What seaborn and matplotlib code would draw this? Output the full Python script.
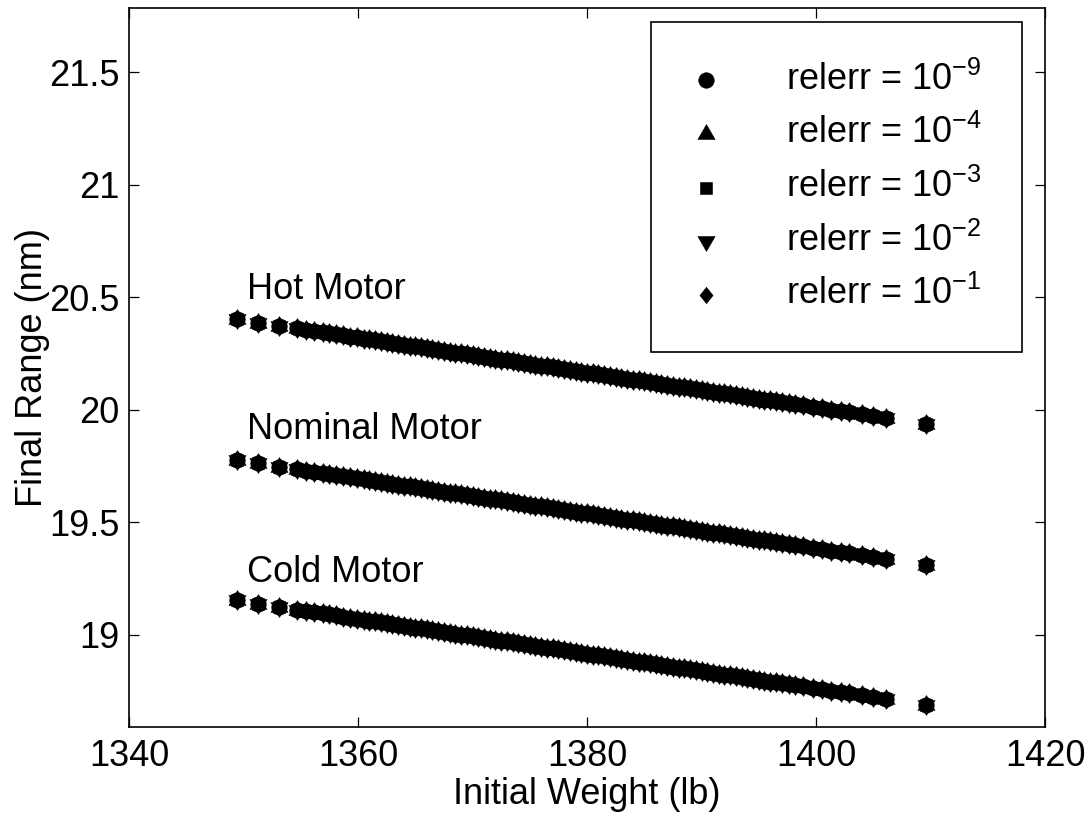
import matplotlib
matplotlib.use("Agg")
import matplotlib.pyplot as plt
from matplotlib.path import Path
import numpy as np
import pandas as pd
import seaborn as sns

# Initial weight samples (lb), shared by all three motor cases
weight = [
    1349.4, 1351.3, 1353.1, 1354.7, 1355.5, 1356.2, 1356.9, 1357.5, 1358.1, 1358.7, 1359.3, 1359.9, 1360.5,
    1361.0, 1361.5, 1362.0, 1362.5, 1363.0, 1363.5, 1364.0, 1364.5, 1365.0, 1365.5,
    1366.0, 1366.5, 1367.0, 1367.5, 1368.0, 1368.5, 1369.0, 1369.5, 1370.0, 1370.5,
    1371.0, 1371.5, 1372.0, 1372.5, 1373.0, 1373.5, 1374.0, 1374.5, 1375.0, 1375.5,
    1376.0, 1376.5, 1377.0, 1377.5, 1378.0, 1378.5, 1379.0, 1379.5, 1380.0, 1380.5,
    1381.0, 1381.5, 1382.0, 1382.5, 1383.0, 1383.5, 1384.0, 1384.5, 1385.0, 1385.5,
    1386.0, 1386.5, 1387.0, 1387.5, 1388.0, 1388.5, 1389.0, 1389.5, 1390.0, 1390.5,
    1391.0, 1391.5, 1392.0, 1392.5, 1393.0, 1393.5, 1394.0, 1394.5, 1395.0, 1395.5,
    1396.0, 1396.5, 1397.0,
    1397.6, 1398.2, 1398.9, 1399.7, 1400.5, 1401.3, 1402.2, 1402.9, 1404.0, 1405.0, 1406.1, 1409.6,
]

# Final range (nm) for each motor temperature case
range_hot = [
    20.402, 20.387, 20.373, 20.361, 20.355, 20.349, 20.344, 20.339, 20.335, 20.330, 20.325, 20.321, 20.316,
    20.312, 20.308, 20.304, 20.301, 20.297, 20.293, 20.289, 20.285, 20.281, 20.277,
    20.274, 20.270, 20.266, 20.262, 20.258, 20.254, 20.250, 20.246, 20.243, 20.239,
    20.235, 20.231, 20.227, 20.223, 20.219, 20.216, 20.212, 20.208, 20.204, 20.200,
    20.196, 20.192, 20.188, 20.185, 20.181, 20.177, 20.173, 20.169, 20.165, 20.161,
    20.157, 20.154, 20.150, 20.146, 20.142, 20.138, 20.134, 20.130, 20.126, 20.123,
    20.119, 20.115, 20.111, 20.107, 20.103, 20.099, 20.096, 20.092, 20.088, 20.084,
    20.080, 20.076, 20.072, 20.068, 20.065, 20.061, 20.057, 20.053, 20.049, 20.045,
    20.041, 20.037, 20.034,
    20.029, 20.024, 20.019, 20.013, 20.006, 20.000, 19.993, 19.988, 19.979, 19.971, 19.963, 19.936,
]
range_nominal = [
    19.776, 19.761, 19.747, 19.735, 19.729, 19.723, 19.718, 19.713, 19.709, 19.704, 19.699, 19.695, 19.690,
    19.686, 19.682, 19.678, 19.675, 19.671, 19.667, 19.663, 19.659, 19.655, 19.651,
    19.648, 19.644, 19.640, 19.636, 19.632, 19.628, 19.624, 19.620, 19.617, 19.613,
    19.609, 19.605, 19.601, 19.597, 19.593, 19.590, 19.586, 19.582, 19.578, 19.574,
    19.570, 19.566, 19.562, 19.559, 19.555, 19.551, 19.547, 19.543, 19.539, 19.535,
    19.531, 19.528, 19.524, 19.520, 19.516, 19.512, 19.508, 19.504, 19.500, 19.497,
    19.493, 19.489, 19.485, 19.481, 19.477, 19.473, 19.470, 19.466, 19.462, 19.458,
    19.454, 19.450, 19.446, 19.442, 19.439, 19.435, 19.431, 19.427, 19.423, 19.419,
    19.415, 19.411, 19.408,
    19.403, 19.398, 19.393, 19.387, 19.380, 19.374, 19.367, 19.362, 19.353, 19.345, 19.337, 19.310,
]
range_cold = [
    19.153, 19.138, 19.124, 19.112, 19.106, 19.100, 19.095, 19.090, 19.086, 19.081, 19.076, 19.072, 19.067,
    19.063, 19.059, 19.055, 19.052, 19.048, 19.044, 19.040, 19.036, 19.032, 19.028,
    19.025, 19.021, 19.017, 19.013, 19.009, 19.005, 19.001, 18.997, 18.994, 18.990,
    18.986, 18.982, 18.978, 18.974, 18.970, 18.967, 18.963, 18.959, 18.955, 18.951,
    18.947, 18.943, 18.939, 18.936, 18.932, 18.928, 18.924, 18.920, 18.916, 18.912,
    18.908, 18.905, 18.901, 18.897, 18.893, 18.889, 18.885, 18.881, 18.877, 18.874,
    18.870, 18.866, 18.862, 18.858, 18.854, 18.850, 18.847, 18.843, 18.839, 18.835,
    18.831, 18.827, 18.823, 18.819, 18.816, 18.812, 18.808, 18.804, 18.800, 18.796,
    18.792, 18.788, 18.785,
    18.780, 18.775, 18.770, 18.764, 18.757, 18.751, 18.744, 18.739, 18.730, 18.722, 18.714, 18.687,
]

motor_names = ["Hot Motor", "Nominal Motor", "Cold Motor"]
motor_label_pos = [(1350.3, 20.49), (1350.3, 19.87), (1350.3, 19.235)]

tolerances = ["10$^{-9}$", "10$^{-4}$", "10$^{-3}$", "10$^{-2}$", "10$^{-1}$"]

# Marker outlines: equilateral triangles centred on their centroid (so up + down
# overlap into a six-pointed star) and a slightly slim diamond.
tri_up = Path([(0, 1), (-0.866, -0.5), (0.866, -0.5), (0, 1)], closed=True)
tri_down = Path([(0, -1), (0.866, 0.5), (-0.866, 0.5), (0, -1)], closed=True)
slim_diamond = Path([(0, 1), (0.8, 0), (0, -1), (-0.8, 0), (0, 1)], closed=True)
tol_markers = ["o", tri_up, "s", tri_down, slim_diamond]
tol_sizes = [125, 205, 80, 205, 140]

xticks = [1340, 1360, 1380, 1400, 1420]
yticks = [19, 19.5, 20, 20.5, 21, 21.5]
ytick_labels = ["19", "19.5", "20", "20.5", "21", "21.5"]

df = pd.DataFrame({
    "weight": weight * 3,
    "final_range": range_hot + range_nominal + range_cold,
    "motor": sum([[m] * len(weight) for m in motor_names], []),
})

sns.set_theme(style="ticks")
plt.rcParams["font.family"] = ["Liberation Sans", "DejaVu Sans"]
plt.rcParams["mathtext.default"] = "regular"
plt.rcParams.update({
    "text.color": "black", "axes.labelcolor": "black",
    "xtick.color": "black", "ytick.color": "black",
    "xtick.direction": "in", "ytick.direction": "in",
    "xtick.top": True, "ytick.right": True,
    "xtick.major.size": 7, "ytick.major.size": 7,
    "xtick.major.width": 0.9, "ytick.major.width": 0.9,
    "axes.linewidth": 1.2, "axes.edgecolor": "black",
})

FS = 26
fig = plt.figure(figsize=(10.91, 8.18), dpi=100)
ax = fig.add_axes([129 / 1091, 1 - 727 / 818, (1045 - 129) / 1091, (727 - 8) / 818])

for tol, mk, sz in zip(tolerances, tol_markers, tol_sizes):
    sns.scatterplot(data=df, x="weight", y="final_range", marker=mk, s=sz,
                    color="black", edgecolor="black", linewidth=0.4,
                    label=f"relerr = {tol}", ax=ax, legend=False)

for name, (tx, ty) in zip(motor_names, motor_label_pos):
    ax.text(tx, ty, name, fontsize=FS, ha="left", va="baseline", color="black")

ax.set_xlim(1340, 1420)
ax.set_ylim(18.59, 21.785)
ax.set_xticks(xticks)
ax.set_xticklabels([str(t) for t in xticks])
ax.set_yticks(yticks)
ax.set_yticklabels(ytick_labels)
ax.tick_params(axis="both", labelsize=FS, colors="black")
ax.tick_params(axis="x", pad=9)
ax.tick_params(axis="y", pad=7)
ax.set_xlabel("Initial Weight (lb)", fontsize=FS, labelpad=2, color="black")
ax.set_ylabel("Final Range (nm)", fontsize=FS, color="black")
ax.yaxis.set_label_coords(-0.0862, 0.5)

leg = ax.legend(loc="upper right", bbox_to_anchor=(0.975, 0.9805), borderaxespad=0,
                fontsize=FS, frameon=True, fancybox=False, edgecolor="black",
                framealpha=1, borderpad=1.1, handlelength=0.85, handletextpad=1.8,
                labelspacing=0.48, scatterpoints=1)
leg.get_frame().set_linewidth(1.2)

fig.savefig("out.png", dpi=100)
